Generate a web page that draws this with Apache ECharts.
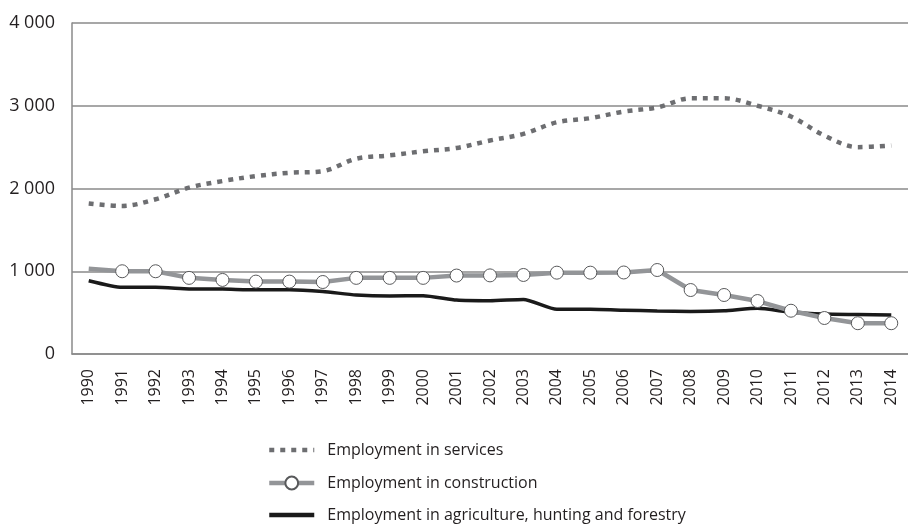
<!DOCTYPE html>
<html><head><meta charset="utf-8">
<script src="https://cdn.jsdelivr.net/npm/echarts@6/dist/echarts.min.js"></script>
<style>html,body{margin:0;padding:0;background:#fff}#c{width:908px;height:526px}</style>
</head><body><div id="c"></div>
<script>
const years = ['1990','1991','1992','1993','1994','1995','1996','1997','1998','1999','2000','2001','2002','2003','2004','2005','2006','2007','2008','2009','2010','2011','2012','2013','2014'];
const services = [1820,1790,1870,2010,2090,2150,2190,2210,2360,2400,2450,2490,2580,2660,2800,2850,2930,2980,3090,3090,3000,2870,2640,2500,2520];
const construction = [1030,1000,1000,920,895,875,875,870,920,920,920,948,950,955,983,983,985,1015,773,713,640,523,435,372,372];
const agriculture = [886,806,806,787,785,775,777,755,713,700,705,652,644,660,540,540,530,520,515,523,552,504,482,477,471];
const yTicks = [0,1000,2000,3000,4000];
const names = ['Employment in services','Employment in construction','Employment in agriculture, hunting and forestry'];

const chart = echarts.init(document.getElementById('c'));
const font = 'Open Sans';
const legendBase = {orient:'vertical', padding:0, itemWidth:45, itemHeight:16, itemGap:0,
  lineStyle:{width:4.5}, textStyle:{fontSize:16, color:'#231f20', fontFamily:font, padding:[0,0,0,8], lineHeight:18}};
chart.setOption({
  animation:false,
  grid:{left:72, top:23, width:844, height:331, containLabel:false},
  xAxis:{type:'category', data:years, boundaryGap:true,
    axisLine:{lineStyle:{color:'#8a8a8a', width:1.5}}, axisTick:{show:false},
    axisLabel:{rotate:90, fontSize:16, color:'#231f20', fontFamily:font, margin:15, interval:0}},
  yAxis:{type:'value', min:yTicks[0], max:yTicks[yTicks.length-1], interval:1000,
    axisLine:{show:true, lineStyle:{color:'#8a8a8a', width:1.5}}, axisTick:{show:false},
    splitLine:{lineStyle:{color:'#8a8a8a', width:1.5}},
    axisLabel:{fontSize:18, color:'#231f20', fontFamily:font, margin:17,
      formatter:v=>String(v).replace(/\B(?=(\d{3})+(?!\d))/g,' ')}},
  legend:[
    Object.assign({}, legendBase, {left:267, top:441, data:[{name:names[0], itemStyle:{opacity:0}}]}),
    Object.assign({}, legendBase, {left:267, top:474, data:[{name:names[1]}]}),
    Object.assign({}, legendBase, {left:267, top:506, data:[{name:names[2], itemStyle:{opacity:0}}]})
  ],
  series:[
    {name:names[0], type:'line', data:services, smooth:0.35, symbol:'none',
      lineStyle:{color:'#6d6e71', width:4.5, type:[5,6]}, itemStyle:{color:'#6d6e71'}},
    {name:names[2], type:'line', data:agriculture, smooth:0.2, symbol:'none',
      lineStyle:{color:'#1a1a1a', width:3.5}, itemStyle:{color:'#1a1a1a'}, z:2},
    {name:names[1], type:'line', symbol:'circle', symbolSize:13,
      data:construction.map((v,i)=> i===0 ? {value:v, symbol:'none'} : v),
      lineStyle:{color:'#939598', width:4.5}, itemStyle:{color:'#fff', borderColor:'#58595b', borderWidth:1}, z:3}
  ]
});
</script></body></html>
